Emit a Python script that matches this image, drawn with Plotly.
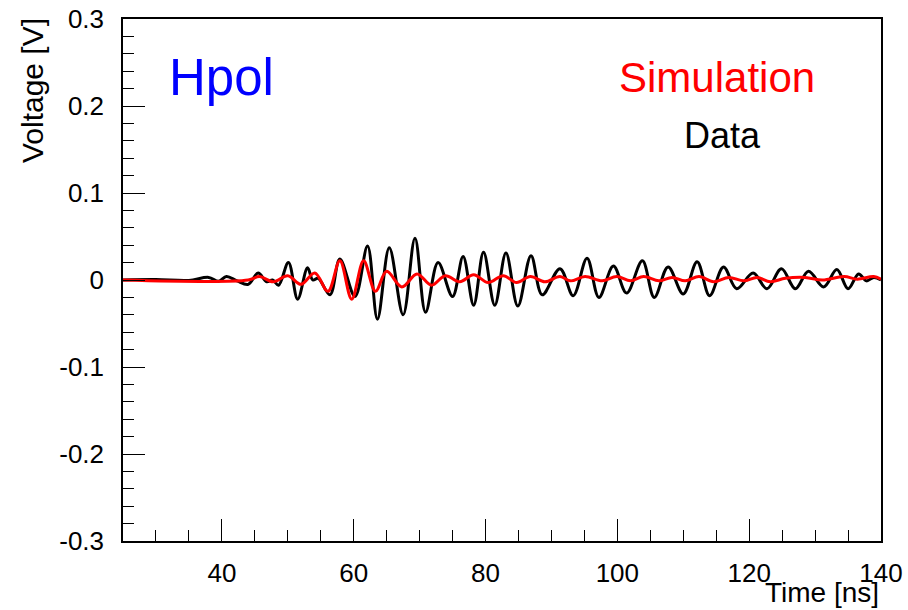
import plotly.graph_objects as go

data_t = [25, 30, 35, 38.0, 39.5, 40.7, 42.3, 44.0, 45.5, 46.8, 47.7, 48.6, 50.1, 51.5, 53.0,
          53.8, 54.6, 56.4, 57.9, 60.2, 62.1, 63.6, 65.4, 67.5, 69.3, 70.9, 72.8, 75.0,
          76.6, 78.2, 79.7, 81.4, 83.1, 84.9, 86.9, 88.6, 91.3, 93.3, 95.4, 97.2, 99.4,
          101.4, 103.8, 105.6, 107.7, 110.0, 112.1, 114.0, 116.1, 118.1, 120.6, 122.7,
          124.9, 127.0, 129.0, 131.3, 133.3, 135.0, 136.6, 137.8, 138.9, 140]
data_v = [0, 0.0005, -0.0005, 0.003, -0.0015, 0.004, -0.001, -0.005, 0.008, -0.002, 0.000,
          -0.006, 0.020, -0.022, 0.014, 0.000, 0.002, -0.017, 0.024, -0.019, 0.039, -0.045,
          0.037, -0.040, 0.048, -0.037, 0.020, -0.019, 0.027, -0.029, 0.032, -0.029, 0.031,
          -0.030, 0.028, -0.017, 0.013, -0.018, 0.025, -0.020, 0.016, -0.015, 0.022, -0.020,
          0.015, -0.016, 0.021, -0.018, 0.015, -0.010, 0.008, -0.010, 0.013, -0.010, 0.010,
          -0.008, 0.012, -0.010, 0.007, -0.001, 0.003, 0.0]

# Simulated waveform (red)
sim_t = [25, 44.0, 45.7, 47.8, 50.0, 52.0, 54.1, 56.1, 57.9, 59.7, 61.5, 63.3, 65.0, 67.3,
         69.6, 71.8, 73.9, 76.1, 78.2, 80.4, 82.7, 84.7, 86.8, 89.0, 91.3, 92.9, 95.1,
         97.7, 99.9, 102.0, 104.0, 106.3, 108.3, 110.3, 112.4, 114.6, 116.9, 119.2,
         121.2, 123.2, 125.5, 128.5, 131.1, 134.4, 136.4, 138.9, 140]
sim_v = [0, 0.0, 0.004, -0.002, 0.005, -0.005, 0.008, -0.013, 0.022, -0.022, 0.022, -0.013,
         0.010, -0.008, 0.007, -0.006, 0.005, -0.002, 0.006, -0.003, 0.005, -0.003, 0.004,
         -0.002, 0.004, -0.001, 0.004, -0.001, 0.004, -0.001, 0.004, -0.001, 0.003, -0.001,
         0.004, -0.002, 0.003, -0.001, 0.003, -0.002, 0.002, 0.003, 0.000, 0.004, 0.001,
         0.004, 0.001]

x_tickvals = [40, 60, 80, 100, 120, 140]
x_ticktext = ["40", "60", "80", "100", "120", "140"]
y_tickvals = [-0.3, -0.2, -0.1, 0, 0.1, 0.2, 0.3]
y_ticktext = ["-0.3", "-0.2", "-0.1", "0", "0.1", "0.2", "0.3"]

FONT = "Liberation Sans, Arial, Helvetica, sans-serif"

fig = go.Figure()
fig.add_trace(go.Scatter(x=data_t, y=data_v, mode="lines", name="Data",
                         line=dict(color="black", width=3, shape="spline", smoothing=1.0)))
fig.add_trace(go.Scatter(x=sim_t, y=sim_v, mode="lines", name="Simulation",
                         line=dict(color="#ff0000", width=3, shape="spline", smoothing=1.0)))

fig.update_layout(
    width=908, height=610,
    margin=dict(l=123, r=27, t=19, b=69, autoexpand=False),
    paper_bgcolor="white", plot_bgcolor="white",
    showlegend=False,
    font=dict(family=FONT, size=26, color="black"),
    xaxis=dict(range=[25, 140], tickvals=x_tickvals, ticktext=x_ticktext,
               ticks="inside", ticklen=22, tickwidth=1, tickcolor="black",
               minor=dict(dtick=5, tick0=0, ticks="inside", ticklen=11, tickcolor="black"),
               showline=True, linecolor="black", linewidth=1.5, mirror=True,
               showgrid=False, zeroline=False, ticklabelstandoff=8, automargin=False,
               tickfont=dict(size=26)),
    yaxis=dict(range=[-0.3, 0.3], tickvals=y_tickvals, ticktext=y_ticktext,
               ticks="inside", ticklen=22, tickwidth=1, tickcolor="black",
               minor=dict(dtick=0.02, tick0=0, ticks="inside", ticklen=11, tickcolor="black"),
               showline=True, linecolor="black", linewidth=1.5, mirror=True,
               showgrid=False, zeroline=False, ticklabelstandoff=12, automargin=False,
               tickfont=dict(size=26)),
)

fig.add_annotation(text="Hpol", xref="paper", yref="paper", x=0.058, y=0.888,
                   xanchor="left", yanchor="middle", showarrow=False,
                   font=dict(size=51, color="#0000ff", family=FONT))
fig.add_annotation(text="Simulation", xref="paper", yref="paper", x=0.783, y=0.888,
                   xanchor="center", yanchor="middle", showarrow=False,
                   font=dict(size=42, color="#ff0000", family=FONT))
fig.add_annotation(text="Data", xref="paper", yref="paper", x=0.791, y=0.776,
                   xanchor="center", yanchor="middle", showarrow=False,
                   font=dict(size=36, color="black", family=FONT))
fig.add_annotation(text="Voltage [V]", xref="paper", yref="paper", x=-0.12, y=0.862,
                   xanchor="center", yanchor="middle", textangle=-90, showarrow=False,
                   font=dict(size=30, family=FONT))
fig.add_annotation(text="Time [ns]", xref="paper", yref="paper", x=1.0, y=-0.0995,
                   xanchor="right", yanchor="middle", showarrow=False,
                   font=dict(size=28, family=FONT))

fig.write_html("out.html")
